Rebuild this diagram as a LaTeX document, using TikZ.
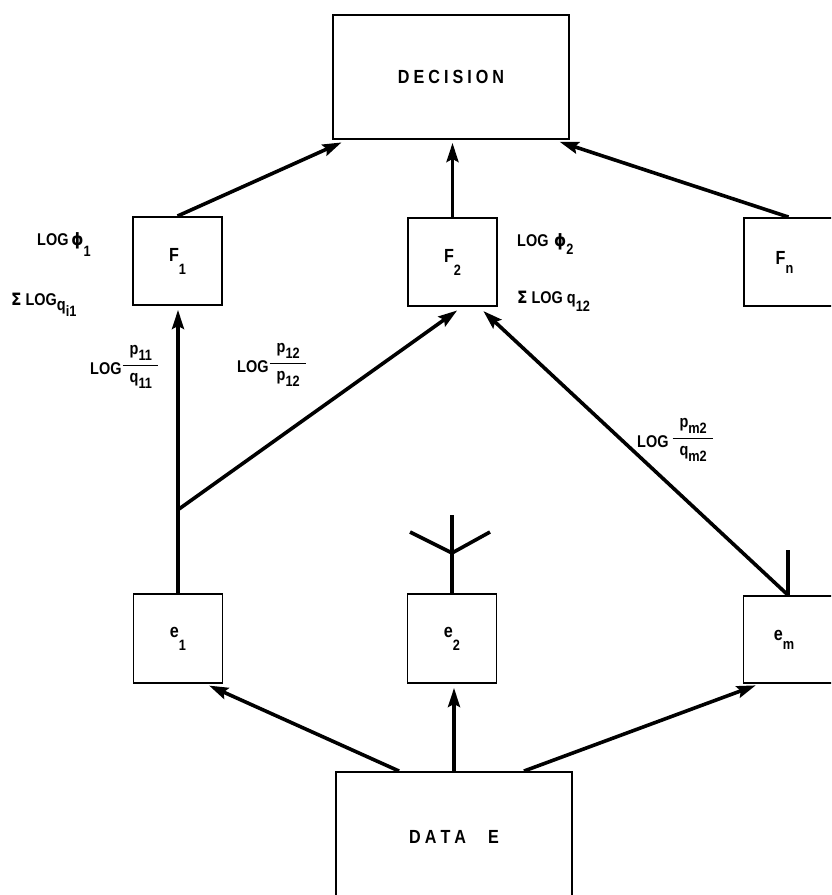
\documentclass[tikz,border=0pt]{standalone}
\usepackage{amsmath}
\usepackage{fontspec}
\setmainfont{Liberation Sans}[FakeStretch=0.85]
\newfontfamily\grk{DejaVu Sans}[FakeStretch=0.9]
\usetikzlibrary{arrows.meta,calc}
% lowered subscript, as hand lettering sets it (optional drop)
\newcommand\lo[2][12pt]{\raisebox{-#1}{\fontsize{15pt}{15pt}\selectfont #2}}
\newcommand\tk{\kern4pt}
% stacked fraction with a heavy rule
\newcommand\lfrac[2]{\raisebox{4pt}{$\genfrac{}{}{1.4pt}{0}{\hbox{\kern7pt\vphantom{Ip}#1\kern6pt}}{\hbox{\kern7pt\vphantom{I}#2\kern6pt}}$}}
\begin{document}
\begin{tikzpicture}[x=1pt,y=-1pt,
  box/.style={draw, line width=1.9pt, inner sep=0pt, font=\bfseries\fontsize{19pt}{19pt}\selectfont},
  sq/.style={box, minimum width=89pt, minimum height=88pt},
  conn/.style={line width=3.6pt, -{Stealth[length=19pt,width=12pt,inset=3pt]}},
  plain/.style={line width=3.6pt},
  lbl/.style={inner sep=0pt, anchor=base west, font=\bfseries\fontsize{17pt}{17pt}\selectfont}]
\useasboundingbox (0,0) rectangle (831,895);
\clip (0,0) rectangle (831,895);

% boxes
\node[box, minimum width=236pt, minimum height=124pt] (dec) at (451,77)
  {\raisebox{-3pt}{D\tk E\tk C\tk I\tk S\tk I\tk O\tk N}};
\node[sq] (f1) at (177.5,261) {\raisebox{-2pt}{F\lo[13pt]{1}}};
\node[sq] (f2) at (452.5,262) {\raisebox{-2pt}{F\lo[13pt]{2}}};
\node[sq] (fn) at (788.5,262) {\kern-8pt\raisebox{-2pt}{F\lo[9pt]{n}}};
\node[sq, minimum height=89pt] (e1) at (178,638.5) {e\lo[13pt]{1}};
\node[sq, minimum height=89pt] (e2) at (452,638.5) {e\lo[13pt]{2}};
\node[sq, minimum height=87pt] (em) at (788,639.5) {\kern-8pt e\lo[9pt]{m}};
\node[box, minimum width=236pt, minimum height=140pt] (data) at (454,842)
  {\raisebox{10pt}{D\tk A\tk T\tk A\hspace{22pt}E}};

% free ends and branch points
\coordinate (br1) at (179,509);
\coordinate (emstub) at (788,550);
\coordinate (e2top) at (452,515);
\coordinate (e2fork) at (452,553);
\coordinate (e2l) at (410,532);
\coordinate (e2r) at (490,532);

% F nodes to decision
\draw[conn, shorten >=6pt] (f1.north) -- ($(dec.south west)+(15pt,0)$);
\draw[conn, shorten >=3pt] (f2.north) -- (f2.north |- dec.south);
\draw[conn, shorten >=6pt] (fn.north) -- ($(dec.south east)+(-16pt,0)$);

% evidence to F nodes
\draw[conn, shorten >=4pt] (e1.north) -- (e1.north |- f1.south);
\draw[conn, shorten >=6pt] (br1) -- ($(f2.south west)+(55pt,0)$);
\draw[conn, shorten >=6pt] (em.north) -- ($(f2.south east)+(-19pt,0)$);
\draw[plain] (em.north) -- (emstub);
\draw[plain] (e2.north) -- (e2top);
\draw[plain] (e2fork) -- (e2l);
\draw[plain] (e2fork) -- (e2r);

% data to evidence
\draw[conn, shorten >=4pt] ($(data.north west)+(64pt,0)$) -- ($(e1.south east)+(-18pt,0)$);
\draw[conn, shorten >=4pt] (data.north) -- (data.north |- e2.south);
\draw[conn, shorten >=4pt] ($(data.north east)+(-49pt,0)$) -- ($(em.south west)+(17pt,0)$);

% labels
\node[lbl] (lp1) at (37,245) {LOG\,{\grk ϕ}\lo[11pt]{1}};
\node[lbl] (s1) at (11,305) {{\grk Σ} LOG\raisebox{-5pt}{q\lo[6pt]{i1}}};
\node[lbl] (lp2) at (517,246) {LOG\,\,{\grk ϕ}\lo[8pt]{2}};
\node[lbl] (s2) at (517,303) {{\grk Σ} LOG q\lo[8pt]{12}};
\node[lbl] (w11) at (90,374) {LOG\lfrac{p\lo[6pt]{11}}{q\lo[6pt]{11}}};
\node[lbl] (w12) at (237,372) {LOG\lfrac{p\lo[6pt]{12}}{p\lo[6pt]{12}}};
\node[lbl] (wm2) at (637,447) {LOG\,\lfrac{p\lo[6pt]{m2}}{q\lo[6pt]{m2}}};
\end{tikzpicture}
\end{document}
